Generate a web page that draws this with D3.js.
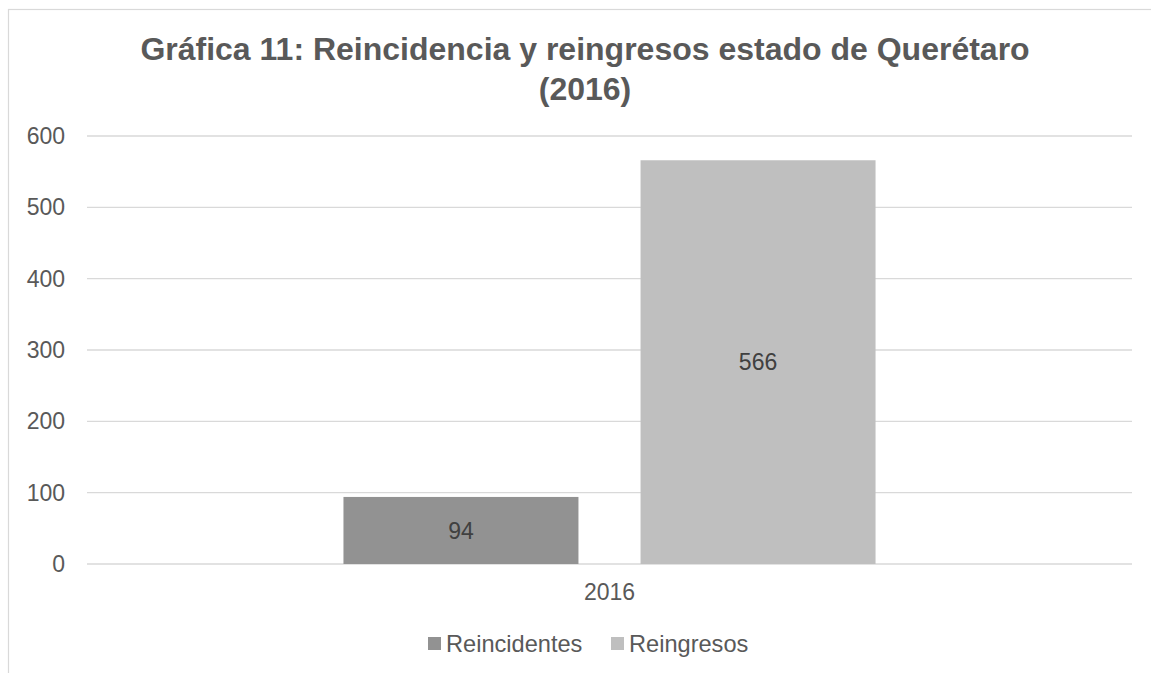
<!DOCTYPE html>
<html>
<head>
<meta charset="utf-8">
<script src="https://cdn.jsdelivr.net/npm/d3@7"></script>
<style>
  body { margin: 0; background: #fff; }
  text { font-family: "Liberation Sans", Arial, sans-serif; }
</style>
</head>
<body>
<svg id="chart"></svg>
<script>
const years = ["2016"];
const seriesNames = ["Reincidentes", "Reingresos"];
const reincidentes = [94];
const reingresos = [566];
const yTicks = [0, 100, 200, 300, 400, 500, 600];
const titleLines = ["Gráfica 11: Reincidencia y reingresos estado de Querétaro", "(2016)"];

const width = 1151, height = 673;
const colors = { Reincidentes: "#929292", Reingresos: "#bfbfbf" };
const plot = { left: 87, right: 1132, top: 136, bottom: 564 };

const rows = years.map((y, i) => ({
  year: y,
  values: [
    { key: "Reincidentes", value: reincidentes[i] },
    { key: "Reingresos", value: reingresos[i] }
  ]
}));

const svg = d3.select("#chart").attr("width", width).attr("height", height);

// chart border (only top/left visible in the crop)
svg.append("rect")
  .attr("x", 8.5).attr("y", 9.5)
  .attr("width", 1200).attr("height", 700)
  .attr("fill", "none").attr("stroke", "#d9d9d9").attr("stroke-width", 1.2);

svg.append("text")
  .attr("text-anchor", "middle")
  .attr("fill", "#595959")
  .attr("font-size", 32)
  .attr("font-weight", "bold")
  .selectAll("tspan")
  .data(titleLines)
  .enter()
  .append("tspan")
  .attr("x", 585)
  .attr("y", (d, i) => 60 + i * 40)
  .text(d => d);

const yScale = d3.scaleLinear().domain([0, 600]).range([plot.bottom, plot.top]);
const x0 = d3.scaleBand().domain(years).range([plot.left, plot.right]).paddingInner(0).paddingOuter(0.482);
const x1 = d3.scaleBand().domain(seriesNames).range([0, x0.bandwidth()]).paddingInner(0.209).paddingOuter(0);

// gridlines
svg.append("g")
  .selectAll("line")
  .data(yTicks)
  .enter()
  .append("line")
  .attr("x1", plot.left).attr("x2", plot.right)
  .attr("y1", d => yScale(d)).attr("y2", d => yScale(d))
  .attr("stroke", "#d9d9d9").attr("stroke-width", 1.4);

// y axis labels
const yAxis = d3.axisLeft(yScale).tickValues(yTicks).tickSize(0).tickPadding(0);
const yg = svg.append("g").attr("transform", "translate(65,0)").call(yAxis);
yg.select(".domain").remove();
yg.selectAll("text")
  .attr("font-family", "Liberation Sans, Arial, sans-serif")
  .attr("font-size", 23).attr("fill", "#595959");

// bars
const groups = svg.selectAll(".group")
  .data(rows)
  .enter()
  .append("g")
  .attr("class", "group")
  .attr("transform", d => "translate(" + x0(d.year) + ",0)");

groups.selectAll("rect")
  .data(d => d.values)
  .enter()
  .append("rect")
  .attr("x", d => x1(d.key))
  .attr("width", x1.bandwidth())
  .attr("y", d => yScale(d.value))
  .attr("height", d => yScale(0) - yScale(d.value))
  .attr("fill", d => colors[d.key]);

groups.selectAll(".lbl")
  .data(d => d.values)
  .enter()
  .append("text")
  .attr("class", "lbl")
  .attr("x", d => x1(d.key) + x1.bandwidth() / 2)
  .attr("y", d => (yScale(d.value) + yScale(0)) / 2)
  .attr("dy", "0.35em")
  .attr("text-anchor", "middle")
  .attr("font-size", 23)
  .attr("fill", "#404040")
  .text(d => d.value);

// x axis labels
const xAxis = d3.axisBottom(x0).tickSize(0).tickPadding(0);
const xg = svg.append("g").attr("transform", "translate(0,584)").call(xAxis);
xg.select(".domain").remove();
xg.selectAll("text")
  .attr("font-family", "Liberation Sans, Arial, sans-serif")
  .attr("font-size", 23).attr("fill", "#595959");

// legend
const legendX = [428, 611];
const legend = svg.append("g")
  .selectAll("g")
  .data(seriesNames)
  .enter()
  .append("g")
  .attr("transform", (d, i) => "translate(" + legendX[i] + ",637)");
legend.append("rect")
  .attr("width", 13).attr("height", 13)
  .attr("fill", d => colors[d]);
legend.append("text")
  .attr("x", 18).attr("y", 15)
  .attr("font-size", 23.6).attr("fill", "#595959")
  .text(d => d);
</script>
</body>
</html>
